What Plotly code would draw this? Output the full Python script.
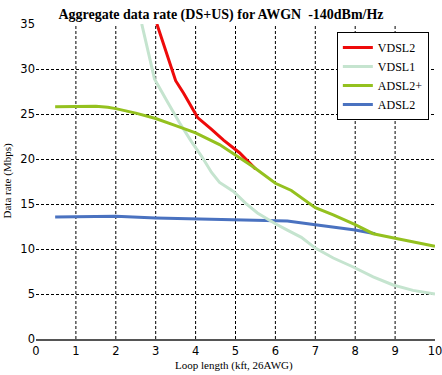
import plotly.graph_objects as go

# ---- data ----
vdsl2_x = [3.03, 3.25, 3.5, 3.7, 3.9, 4.05, 4.4, 4.7, 5.1, 5.45, 5.5]
vdsl2_y = [35.0, 32.0, 28.7, 27.3, 25.8, 24.6, 23.3, 22.1, 20.7, 19.2, 18.9]

vdsl1_x = [2.65, 2.8, 2.97, 3.3, 3.6, 3.9, 4.15, 4.4, 4.6, 4.95, 5.25, 5.55,
           6.0, 6.3, 6.65, 7.0, 7.45, 7.95, 8.45, 8.95, 9.45, 10.0]
vdsl1_y = [35.0, 32.0, 28.9, 26.3, 24.0, 21.9, 20.3, 18.5, 17.4, 16.4, 15.1, 14.0,
           12.8, 12.1, 11.3, 10.1, 9.0, 8.0, 6.9, 6.0, 5.4, 5.0]

adsl2p_x = [0.48, 1.0, 1.5, 1.8, 2.0, 2.5, 3.0, 3.5, 4.0, 4.6, 5.0, 5.45,
            6.0, 6.4, 7.0, 7.45, 8.0, 8.45, 9.0, 9.5, 10.0]
adsl2p_y = [25.8, 25.85, 25.85, 25.75, 25.6, 25.1, 24.5, 23.7, 22.9, 21.6, 20.4, 19.1,
            17.3, 16.5, 14.6, 13.8, 12.7, 11.7, 11.2, 10.75, 10.3]

adsl2_x = [0.48, 1.0, 2.0, 3.0, 4.0, 5.0, 5.5, 6.0, 6.3, 7.0, 7.5, 8.0, 8.5]
adsl2_y = [13.55, 13.6, 13.65, 13.45, 13.35, 13.3, 13.25, 13.15, 13.1, 12.7, 12.4, 12.1, 11.7]

x_ticks = [0, 1, 2, 3, 4, 5, 6, 7, 8, 9, 10]
y_ticks = [0, 5, 10, 15, 20, 25, 30, 35]

serif = "Liberation Serif"
sans = "DejaVu Sans"

fig = go.Figure()
# drawing order: ADSL2, VDSL1, VDSL2, ADSL2+ ; legend order via legendrank
fig.add_trace(go.Scatter(x=adsl2_x, y=adsl2_y, mode="lines", name="ADSL2",
                         line=dict(color="#4a72c0", width=3), legendrank=4))
fig.add_trace(go.Scatter(x=vdsl1_x, y=vdsl1_y, mode="lines", name="VDSL1",
                         line=dict(color="#c5e4cf", width=3), legendrank=2))
fig.add_trace(go.Scatter(x=vdsl2_x, y=vdsl2_y, mode="lines", name="VDSL2",
                         line=dict(color="#ee0a0a", width=3), legendrank=1))
fig.add_trace(go.Scatter(x=adsl2p_x, y=adsl2p_y, mode="lines", name="ADSL2+",
                         line=dict(color="#94c11f", width=3), legendrank=3))

# vertical dashed gridlines (none at 0 and 10 in the reference)
for xv in x_ticks[1:-1]:
    fig.add_shape(type="line", xref="x", yref="y", x0=xv, x1=xv, y0=0, y1=35,
                  line=dict(color="black", width=1, dash="3px,2px"), layer="below")

fig.update_layout(
    width=442, height=375,
    margin=dict(l=36, r=7, t=24, b=36),
    paper_bgcolor="white", plot_bgcolor="white",
    title=dict(text="<b>Aggregate data rate (DS+US) for AWGN  -140dBm/Hz</b>",
               x=0.5, xref="container", xanchor="center", y=1 - 14 / 375, yanchor="middle",
               font=dict(family=serif, size=14, color="black")),
    showlegend=True,
    legend=dict(x=0.754, y=0.975, xanchor="left", yanchor="top",
                bgcolor="white", bordercolor="black", borderwidth=1,
                font=dict(family=serif, size=12, color="black"),
                traceorder="normal", tracegroupgap=0),
    xaxis=dict(range=[0, 10], tickvals=x_ticks, showgrid=False, zeroline=False,
               showline=True, linecolor="#555555", linewidth=1.5, ticks="",
               ticklabeloverflow="allow", automargin=False,
               tickfont=dict(family=sans, size=11.5, color="black"), fixedrange=True),
    yaxis=dict(range=[0, 35], tickvals=y_ticks, showgrid=True, gridcolor="black",
               gridwidth=1, griddash="3px,2px", zeroline=False, showline=False, ticks="",
               automargin=False,
               tickfont=dict(family=sans, size=11.5, color="black"), fixedrange=True),
    annotations=[
        dict(text="Loop length (kft, 26AWG)", xref="paper", yref="paper",
             x=0.495, y=(339 - 365) / 315, xanchor="center", yanchor="middle",
             showarrow=False, font=dict(family=serif, size=11, color="black")),
        dict(text="Data rate (Mbps)", xref="paper", yref="paper",
             x=(7 - 36) / 399, y=0.5, xanchor="center", yanchor="middle", textangle=-90,
             showarrow=False, font=dict(family=serif, size=11, color="black")),
    ],
)

fig.write_html("out.html", config={"displayModeBar": False},
               post_script="document.body.style.margin='0';document.body.style.overflow='hidden';")
